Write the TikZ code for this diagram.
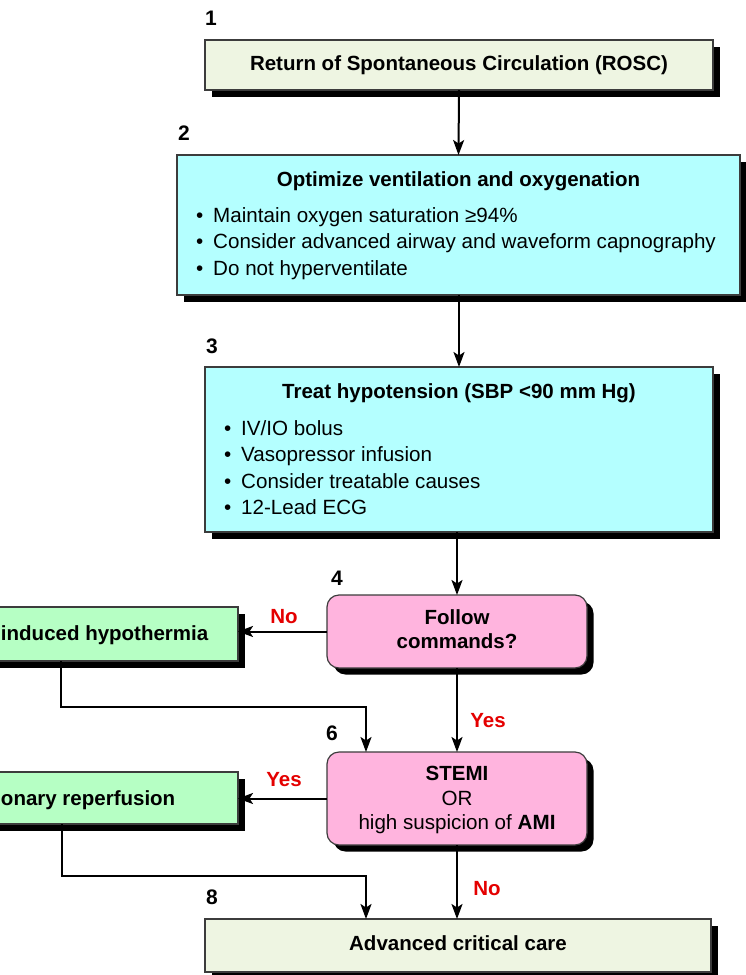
\documentclass[tikz,border=0pt]{standalone}
\usepackage{fontspec}
\setmainfont{Liberation Sans}
\usetikzlibrary{arrows.meta,shadows}
\definecolor{paleA}{RGB}{238,245,226}
\definecolor{cyanA}{RGB}{180,255,255}
\definecolor{pinkA}{RGB}{255,180,222}
\definecolor{greenA}{RGB}{182,255,196}
\definecolor{redA}{RGB}{228,0,0}
\definecolor{edgeA}{RGB}{60,60,60}
\begin{document}
\begin{tikzpicture}[x=1pt,y=-1pt,
  every node/.style={font=\fontsize{20.6}{26.5}\selectfont, inner sep=0pt, outer sep=0pt},
  boxbase/.style={draw=edgeA, line width=1.2pt,
    general shadow={fill=black, shadow xshift=6.5pt, shadow yshift=-6.5pt}},
  palebox/.style={boxbase, fill=paleA},
  cyanbox/.style={boxbase, fill=cyanA},
  pinkbox/.style={boxbase, fill=pinkA, rounded corners=12pt},
  greenbox/.style={boxbase, fill=greenA},
  txt/.style={anchor=base},
  btxt/.style={anchor=base, font=\fontsize{20.5}{26.5}\selectfont\bfseries},
  item/.style={anchor=base west},
  stepnum/.style={anchor=base, font=\fontsize{21}{24}\selectfont\bfseries},
  answer/.style={anchor=base, text=redA, font=\fontsize{20.5}{24}\selectfont\bfseries},
  arr/.style={line width=2pt, -{Stealth[length=15pt,width=11pt,inset=3.5pt]}}
]
\useasboundingbox (0,0) rectangle (746,975);
\clip (0,0) rectangle (746,975);

% boxes
\node[palebox, minimum width=508pt, minimum height=50pt] (b1) at (459,65) {};
\node[cyanbox, minimum width=563pt, minimum height=140pt] (b2) at (458.5,225) {};
\node[cyanbox, minimum width=508pt, minimum height=165pt] (b3) at (459,449.5) {};
\node[pinkbox, minimum width=260pt, minimum height=73pt] (b4) at (457,631.5) {};
\node[greenbox, minimum width=298pt, minimum height=54pt] (b5) at (89,634) {};
\node[pinkbox, minimum width=260pt, minimum height=93pt] (b6) at (457,798.5) {};
\node[greenbox, minimum width=298pt, minimum height=52pt] (b7) at (89,798) {};
\node[palebox, minimum width=506pt, minimum height=53pt] (b8) at (458,945.5) {};

% step numbers
\node[stepnum] (n1) at (211,25) {1};
\node[stepnum] (n2) at (184,140) {2};
\node[stepnum] (n3) at (212,353) {3};
\node[stepnum] (n4) at (337,585) {4};
\node[stepnum] (n6) at (332,740) {6};
\node[stepnum] (n8) at (212,904) {8};

% box texts
\node[btxt] (t1) at (459,70) {Return of Spontaneous Circulation (ROSC)};

\node[btxt] (t2) at (458.5,186) {Optimize ventilation and oxygenation};
\node[item] (t2a) at (196,222) {\textbullet\hspace{10pt}Maintain oxygen saturation ≥94\%};
\node[item] (t2b) at (196,248) {\textbullet\hspace{10pt}Consider advanced airway and waveform capnography};
\node[item] (t2c) at (196,275) {\textbullet\hspace{10pt}Do not hyperventilate};

\node[btxt] (t3) at (459,398) {Treat hypotension (SBP <90 mm Hg)};
\node[item] (t3a) at (224,435) {\textbullet\hspace{10pt}IV/IO bolus};
\node[item] (t3b) at (224,461) {\textbullet\hspace{10pt}Vasopressor infusion};
\node[item] (t3c) at (224,488) {\textbullet\hspace{10pt}Consider treatable causes};
\node[item] (t3d) at (224,514) {\textbullet\hspace{10pt}12-Lead ECG};

\node[btxt] (t4a) at (457,624) {Follow};
\node[btxt] (t4b) at (457,648) {commands?};

\node[btxt, anchor=base west] (t5) at (1,640) {induced hypothermia};

\node[btxt] (t6a) at (457,780) {STEMI};
\node[txt] (t6b) at (457,805) {OR};
\node[txt] (t6c) at (457,829) {high suspicion of \textbf{AMI}};

\node[btxt, anchor=base west] (t7) at (1,805) {onary reperfusion};

\node[btxt] (t8) at (458,950) {Advanced critical care};

% junction points of the side returns
\coordinate (j5) at (61,707);
\coordinate (j5e) at (366,707);
\coordinate (j7) at (62,876);
\coordinate (j7e) at (366,876);

% connectors
\draw[arr] (b1.south) -- (b2.north);
\draw[arr] (b2.south -| b1.south) -- (b3.north -| b1.south);
\draw[arr] (b3.south -| b4.north) -- (b4.north);
\draw[arr] (b4.west) -- (b4.west -| b5.east);
\draw[arr] (b4.south) -- (b6.north);
\draw[arr] (j5 |- b5.south) -- (j5) -- (j5e) -- (j5e |- b6.north);
\draw[arr] (b6.west) -- (b6.west -| b7.east);
\draw[arr] (j7 |- b7.south) -- (j7) -- (j7e) -- (j7e |- b8.north);
\draw[arr] (b6.south) -- (b6.south |- b8.north);

% branch answers
\node[answer] (l4no) at (284,623) {No};
\node[answer] (l4yes) at (488,727) {Yes};
\node[answer] (l6yes) at (284,786) {Yes};
\node[answer] (l6no) at (487,895) {No};
\end{tikzpicture}
\end{document}
